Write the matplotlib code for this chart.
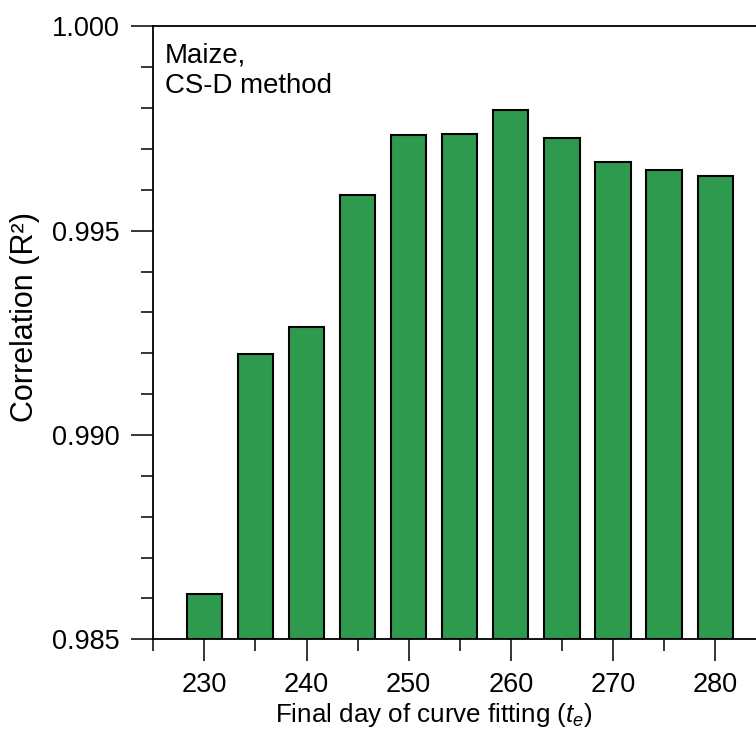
import matplotlib
matplotlib.use("Agg")
import matplotlib.pyplot as plt
from matplotlib.ticker import MultipleLocator, FormatStrFormatter

days = [230, 235, 240, 245, 250, 255, 260, 265, 270, 275, 280]
r2 = [0.98611, 0.99198, 0.99264, 0.99588, 0.99735, 0.99737, 0.99796,
      0.99726, 0.99667, 0.99649, 0.99634]
x_ticks = [230, 240, 250, 260, 270, 280]

plt.rcParams['font.family'] = ['Liberation Sans', 'DejaVu Sans']
plt.rcParams['mathtext.fontset'] = 'custom'
plt.rcParams['mathtext.rm'] = 'Liberation Sans'
plt.rcParams['mathtext.it'] = 'Liberation Sans:italic'

FS = 19.5
fig = plt.figure(figsize=(7.56, 7.34), dpi=100)
ax = fig.add_axes([153.3/756, 1-639.3/734, 1-153.3/756, (639.3-26.4)/734])

ax.bar(days, [v - 0.985 for v in r2], bottom=0.985, width=3.45,
       color='#2e9a4e', edgecolor='black', linewidth=1.5, zorder=3)

ax.set_xlim(225, 284.0)
ax.set_ylim(0.985, 1.000)

ax.spines['right'].set_visible(False)
for s in ['left', 'top', 'bottom']:
    ax.spines[s].set_linewidth(1.3)

ax.set_xticks(x_ticks)
ax.xaxis.set_minor_locator(MultipleLocator(5))
ax.yaxis.set_major_locator(MultipleLocator(0.005))
ax.yaxis.set_minor_locator(MultipleLocator(0.001))
ax.yaxis.set_major_formatter(FormatStrFormatter('%.3f'))

ax.tick_params(which='major', direction='out', length=15.5, width=1.1,
               labelsize=FS, pad=9)
ax.tick_params(which='minor', direction='out', length=8.3, width=1.1)
ax.tick_params(top=False, right=False, which='both')
ax.tick_params(axis='x', which='major', pad=8)

fig.text(433.5/756, 1-722/734, r'Final day of curve fitting ($t_e$)',
         fontsize=18.7, ha='center', va='baseline')
fig.text(25.5/756, 1-317/734, 'Correlation (R²)', fontsize=22,
         rotation=90, ha='center', va='center')

ax.text(165/756, 1-63/734, 'Maize,', transform=fig.transFigure,
        fontsize=19.9, ha='left', va='baseline')
ax.text(165/756, 1-93/734, 'CS-D method', transform=fig.transFigure,
        fontsize=19.9, ha='left', va='baseline')

fig.savefig('out.png', dpi=100)
